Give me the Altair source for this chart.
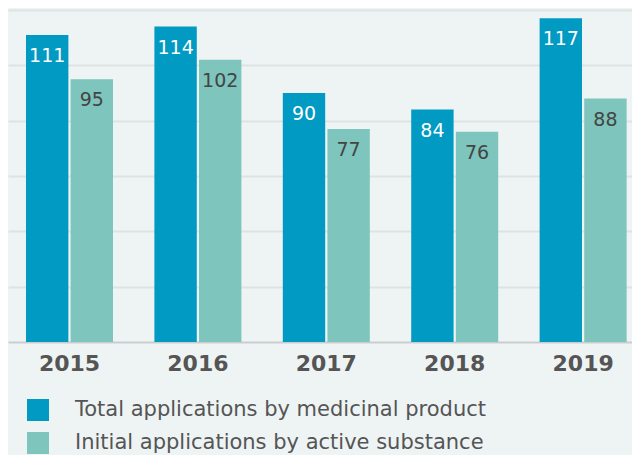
import altair as alt
import pandas as pd

years = ["2015", "2016", "2017", "2018", "2019"]
total = [111, 114, 90, 84, 117]
initial = [95, 102, 77, 76, 88]
series_names = ["Total applications by medicinal product", "Initial applications by active substance"]
colors = ["#009ac3", "#7dc5bd"]

rows = []
for i, y in enumerate(years):
    rows.append({"year": y, "series": series_names[0], "value": total[i]})
    rows.append({"year": y, "series": series_names[1], "value": initial[i]})
df = pd.DataFrame(rows)

x = alt.X("year:N", scale=alt.Scale(paddingInner=0.3224, paddingOuter=0.091, align=0.77),
          axis=alt.Axis(title=None, labelFontSize=22, labelFontWeight="bold", labelColor="#555555",
                        labelFont="DejaVu Sans", labelPadding=11, ticks=False,
                        domainColor="#c9cdcd", domainWidth=2, labelAngle=0))
xo = alt.XOffset("series:N", sort=series_names, scale=alt.Scale(paddingInner=0.05))
y = alt.Y("value:Q", scale=alt.Scale(domain=[0, 120]),
          axis=alt.Axis(title=None, labels=False, ticks=False, domain=False, grid=True,
                        gridColor="#dde3e3", gridWidth=2, values=[20, 40, 60, 80, 100, 120]))

bars = alt.Chart(df).mark_bar().encode(
    x=x, xOffset=xo, y=y,
    color=alt.Color("series:N", sort=series_names,
                    scale=alt.Scale(domain=series_names, range=colors),
                    legend=alt.Legend(title=None, orient="none", legendX=19, legendY=389,
                                      symbolType="square", symbolSize=484, symbolStrokeWidth=0,
                                      labelFontSize=21, labelFont="DejaVu Sans", labelColor="#555555",
                                      labelOffset=26, rowPadding=11, padding=0,
                                      labelLimit=700)),
)

labels = alt.Chart(df).mark_text(baseline="middle", dy=21, fontSize=19, font="DejaVu Sans").encode(
    x=x, xOffset=xo, y=y,
    text="value:Q",
    color=alt.condition(alt.datum.series == series_names[0], alt.value("white"), alt.value("#444444")),
)

chart = alt.layer(bars, labels).properties(
    width=624, height=332,
    background="#eef4f4",
    autosize=alt.AutoSizeParams(type="none"),
    padding={"left": 0, "top": 2, "right": 0, "bottom": 113},
).configure_view(stroke=None)

chart.save("out.html", embed_options={"renderer": "svg", "actions": False})
